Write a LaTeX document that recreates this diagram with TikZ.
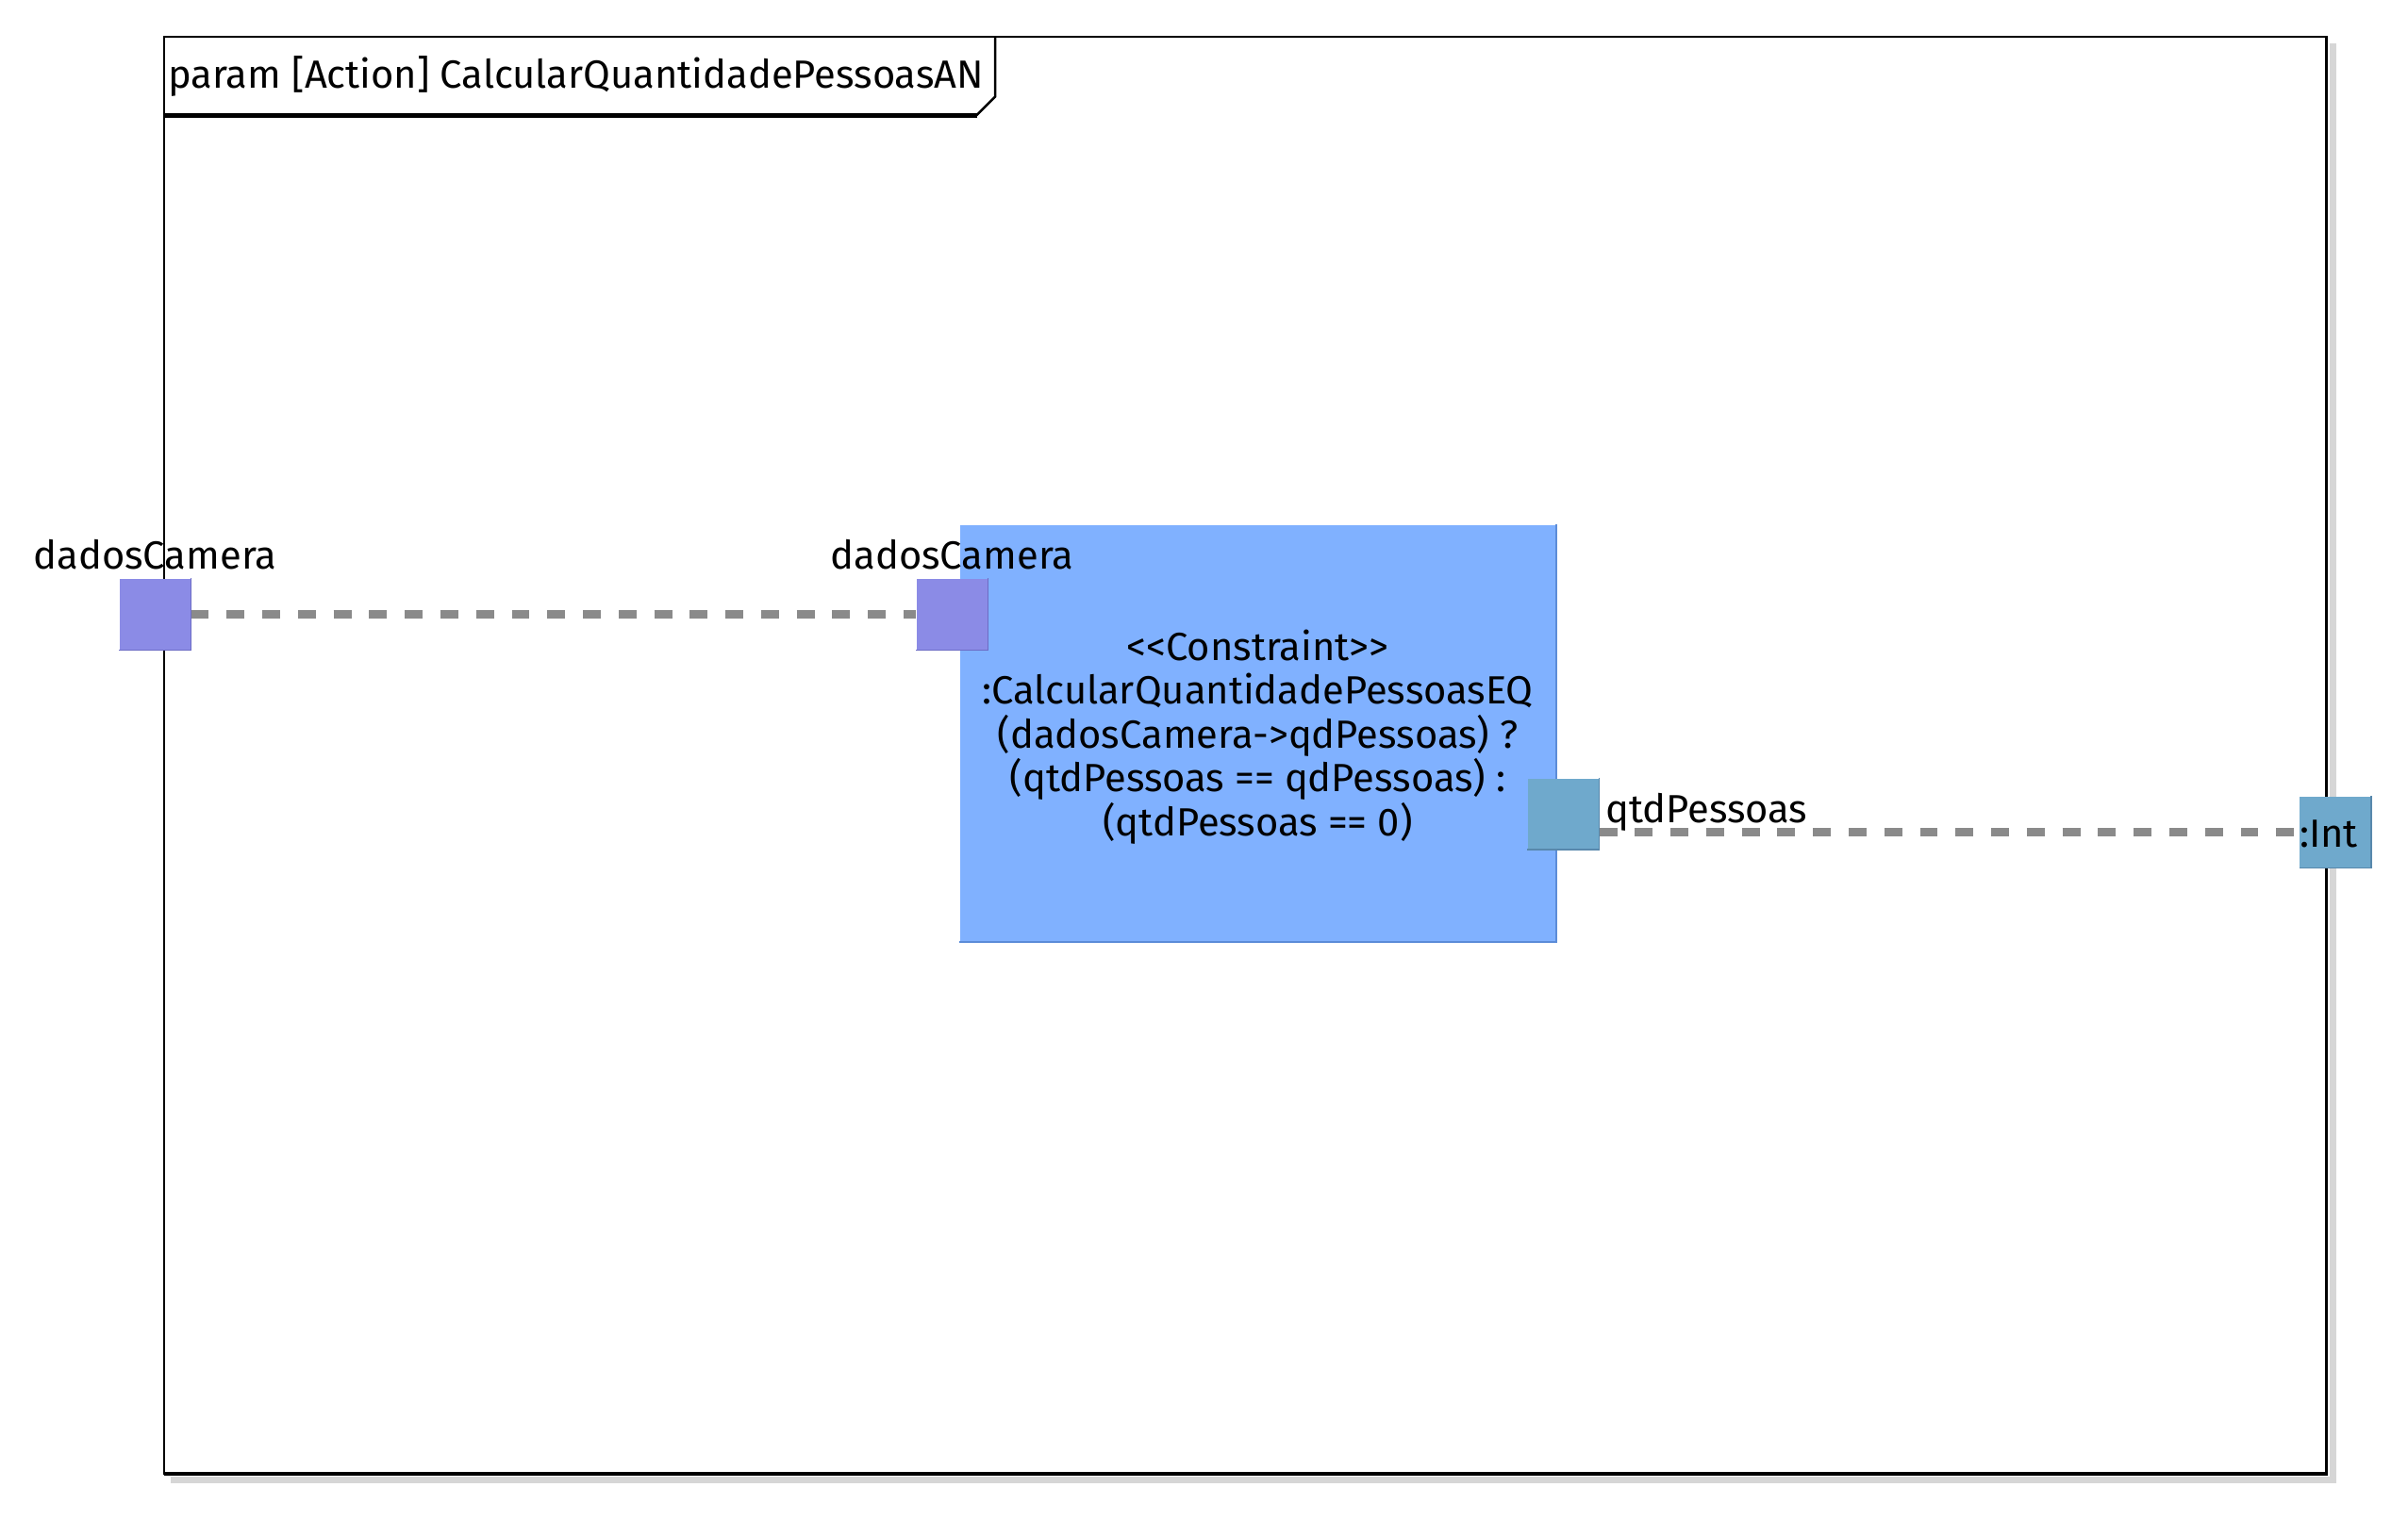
\documentclass[tikz,border=0pt]{standalone}
\usepackage{fontspec}
\setmainfont{Fira Sans}
\usepackage{tikz}
\usetikzlibrary{positioning,calc}

\definecolor{portviolet}{HTML}{8B8BE6}
\definecolor{portedge}{HTML}{6C6CC4}
\definecolor{blockblue}{HTML}{80B1FF}
\definecolor{blockedge}{HTML}{5C8CD8}
\definecolor{valueblue}{HTML}{6FA9CC}
\definecolor{valueedge}{HTML}{5888AC}
\definecolor{linkgray}{HTML}{8A8A8A}
\definecolor{framegray}{HTML}{D6D6D6}

\tikzset{
  lbl/.style={font=\fontsize{12.8}{14.25}\selectfont, inner sep=0pt},
  portbox/.style={rectangle, inner sep=0pt, minimum width=23pt, minimum height=23pt, fill=portviolet},
  valuebox/.style={portbox, fill=valueblue},
  link/.style={linkgray, line width=2.6pt, dash pattern=on 5.8pt off 5.8pt},
}

\begin{document}
\begin{tikzpicture}[x=0.5pt, y=-0.5pt]
    \useasboundingbox (0,0) rectangle (1568,990);
    % frame with its shadow
    \draw[framegray, line width=2pt] (111,964) -- (1519,964) -- (1519,28);
    \draw[line width=0.75pt] (107,24) rectangle (1515,960);
    \draw[line width=1pt] (1515,24) -- (1515,960) -- (107,960);
    % title tab
    \node[lbl, anchor=west] (title) at (109,50) {param [Action] CalcularQuantidadePessoasAN};
    \draw[line width=0.75pt] (648,24) -- (648,63) -- (636,75);
    \draw[line width=1.5pt] (636,75) -- (107,75);

    % constraint block
    \node[rectangle, fill=blockblue, minimum width=194pt, minimum height=135.5pt, inner sep=0pt] (eq) at (819,477.5) {};
    \draw[blockedge, line width=0.5pt] (eq.north east) -- (eq.south east) -- (eq.south west);
    \node[lbl, align=center] (eqtext) at (819,480) {{<}{<}Constraint{>}{>}\\:CalcularQuantidadePessoasEQ\\(dadosCamera->qdPessoas) ?\\(qtdPessoas == qdPessoas) :\\(qtdPessoas == 0)};

    % ports
    \node[portbox] (camOut) at (101,400) {};
    \node[portbox] (camIn) at (620,400) {};
    \node[valuebox] (qtd) at (1018,530) {};
    \node[valuebox] (int) at (1520.5,542) {};
    \foreach \p/\e in {camOut/portedge, camIn/portedge, qtd/valueedge, int/valueedge}
      \draw[\e, line width=0.5pt] (\p.north east) -- (\p.south east) -- (\p.south west);

    \node[lbl] (camOutLbl) at (101,361) {dadosCamera};
    \node[lbl] (camInLbl) at (620,361) {dadosCamera};
    \node[lbl, anchor=west] (qtdLbl) at (1045,529) {qtdPessoas};
    \node[lbl, anchor=west] (intLbl) at (1497,543) {:Int};

    % bindings
    \draw[link] (camOut.east) -- (camIn.west);
    \draw[link] (qtd.east |- int.west) -- (int.west);
\end{tikzpicture}
\end{document}
